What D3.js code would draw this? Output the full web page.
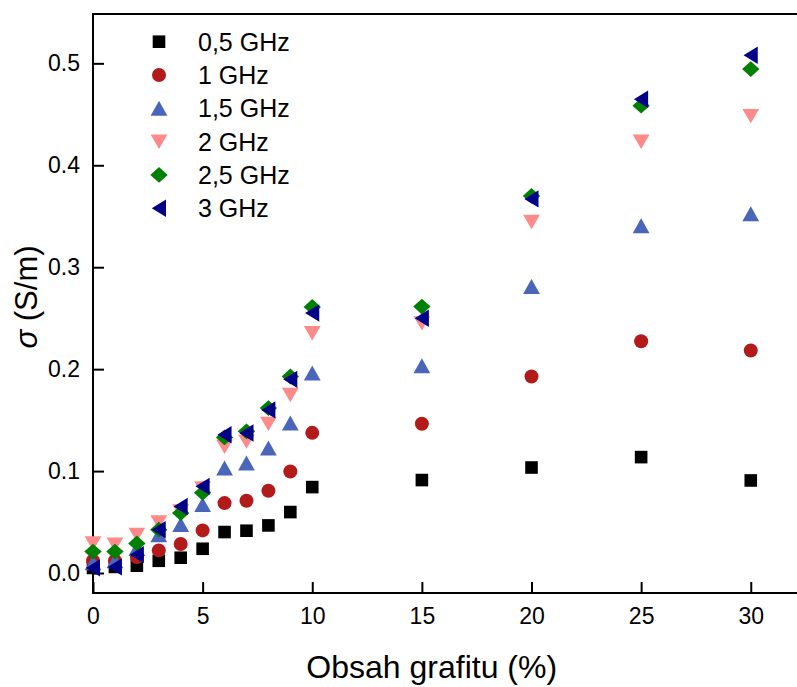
<!DOCTYPE html>
<html>
<head>
<meta charset="utf-8">
<script src="https://cdn.jsdelivr.net/npm/d3@7"></script>
<style>
  html, body { margin: 0; padding: 0; background: #fff; }
  svg { display: block; font-family: "Liberation Sans", Arial, sans-serif; }
</style>
</head>
<body>
<svg id="chart" width="797" height="687"></svg>
<script>
// ---- Data ----
const xValues = [0, 1, 2, 3, 4, 5, 6, 7, 8, 9, 10, 15, 20, 25, 30];
const seriesNames = ["0,5 GHz", "1 GHz", "1,5 GHz", "2 GHz", "2,5 GHz", "3 GHz"];
const s05 = [0.005, 0.006, 0.0072, 0.012, 0.015, 0.0238, 0.0402, 0.0415, 0.0467, 0.0598, 0.0843, 0.0912, 0.1035, 0.1137, 0.0908];
const s10 = [0.012, 0.012, 0.0157, 0.0222, 0.0284, 0.0418, 0.0686, 0.0709, 0.0807, 0.0996, 0.1375, 0.1464, 0.1928, 0.2274, 0.2183];
const s15 = [0.010, 0.012, 0.024, 0.0375, 0.0474, 0.067, 0.103, 0.1078, 0.1225, 0.147, 0.196, 0.2032, 0.281, 0.3405, 0.3523];
const s20 = [0.029, 0.028, 0.0375, 0.0496, 0.0604, 0.083, 0.124, 0.129, 0.1464, 0.1748, 0.2353, 0.245, 0.3444, 0.4232, 0.4483];
const s25 = [0.021, 0.021, 0.029, 0.0425, 0.0588, 0.0787, 0.133, 0.139, 0.1618, 0.1928, 0.261, 0.2614, 0.3699, 0.4585, 0.4944];
const s30 = [0.005, 0.006, 0.018, 0.0425, 0.0653, 0.085, 0.1356, 0.1373, 0.160, 0.190, 0.255, 0.250, 0.367, 0.4647, 0.508];
const xTicks = [0, 5, 10, 15, 20, 25, 30];
const yTicks = [0.0, 0.1, 0.2, 0.3, 0.4, 0.5];

// ---- Styles ----
const colors = ["#000000", "#B31B1B", "#4A66BB", "#FF8A8A", "#008000", "#000088"];

// custom marker shapes
const shapes = [
  { draw(c) { const h = 6.3; c.rect(-h, -h, 2*h, 2*h); } },                      // square
  { draw(c) { c.moveTo(7, 0); c.arc(0, 0, 7, 0, 2*Math.PI); } },                  // circle
  { draw(c) { c.moveTo(0, -7.6); c.lineTo(8.4, 7.4); c.lineTo(-8.4, 7.4); c.closePath(); } }, // up
  { draw(c) { c.moveTo(0, 7.3); c.lineTo(8.4, -7.1); c.lineTo(-8.4, -7.1); c.closePath(); } }, // down
  { draw(c) { c.moveTo(0, -7.9); c.lineTo(8.7, 0); c.lineTo(0, 7.9); c.lineTo(-8.7, 0); c.closePath(); } }, // diamond
  { draw(c) { c.moveTo(-7.2, 0); c.lineTo(7, -8.7); c.lineTo(7, 8.7); c.closePath(); } } // left
];

const allSeries = [s05, s10, s15, s20, s25, s30];

const svg = d3.select("#chart");
const mLeft = 93, mBottom = 593, mTop = 14, mRight = 799;

const x = d3.scaleLinear().domain([0, 32.2]).range([mLeft, mRight]);
const y = d3.scaleLinear().domain([-0.0196, 0.5484]).range([mBottom, mTop]);

// ---- Axes ----
const xAxis = d3.axisBottom(x).tickValues(xTicks).tickSizeInner(-11).tickSizeOuter(0).tickPadding(15)
  .tickFormat(d3.format("d"));
const gx = svg.append("g").attr("transform", `translate(0,${mBottom})`).call(xAxis);
gx.select(".domain").remove();
gx.selectAll(".tick line").attr("stroke", "#000").attr("stroke-width", 2);
gx.selectAll(".tick text").attr("font-size", 23).attr("fill", "#000")
  .attr("font-family", "'Liberation Sans', Arial, sans-serif");

const yAxis = d3.axisLeft(y).tickValues(yTicks).tickSizeInner(-11).tickSizeOuter(0).tickPadding(13)
  .tickFormat(d3.format(".1f"));
const gy = svg.append("g").attr("transform", `translate(${mLeft},0)`).call(yAxis);
gy.select(".domain").remove();
gy.selectAll(".tick line").attr("stroke", "#000").attr("stroke-width", 2);
gy.selectAll(".tick text").attr("font-size", 23).attr("fill", "#000")
  .attr("font-family", "'Liberation Sans', Arial, sans-serif");

// frame lines
svg.append("line").attr("x1", mLeft).attr("x2", mLeft).attr("y1", mTop).attr("y2", mBottom + 1)
  .attr("stroke", "#000").attr("stroke-width", 2);
svg.append("line").attr("x1", mLeft - 1).attr("x2", 797).attr("y1", mBottom).attr("y2", mBottom)
  .attr("stroke", "#000").attr("stroke-width", 2);
svg.append("line").attr("x1", mLeft - 1).attr("x2", 797).attr("y1", mTop).attr("y2", mTop)
  .attr("stroke", "#000").attr("stroke-width", 2);

// ---- Points ----
allSeries.forEach((vals, i) => {
  const sym = d3.symbol().type(shapes[i]);
  svg.append("g").selectAll("path")
    .data(vals.map((v, j) => ({ x: xValues[j], y: v })))
    .join("path")
    .attr("d", sym)
    .attr("transform", d => `translate(${x(d.x)},${y(d.y)})`)
    .attr("fill", colors[i]);
});

// ---- Legend ----
const lg = svg.append("g");
seriesNames.forEach((name, i) => {
  const cy = 41.7 + 33.3 * i;
  lg.append("path").attr("d", d3.symbol().type(shapes[i])())
    .attr("transform", `translate(159,${cy})`).attr("fill", colors[i]);
  lg.append("text").attr("x", 198).attr("y", cy).attr("dy", "0.36em")
    .attr("font-size", 25).attr("fill", "#000").text(name);
});

// ---- Titles ----
svg.append("text").attr("x", 431.7).attr("y", 678).attr("text-anchor", "middle")
  .attr("font-size", 32).attr("fill", "#000").text("Obsah grafitu (%)");

const yt = svg.append("text").attr("transform", "translate(37,297) rotate(-90)")
  .attr("text-anchor", "middle").attr("font-size", 31).attr("fill", "#000");
yt.append("tspan").attr("font-style", "italic").text("σ");
yt.append("tspan").text(" (S/m)");
</script>
</body>
</html>
